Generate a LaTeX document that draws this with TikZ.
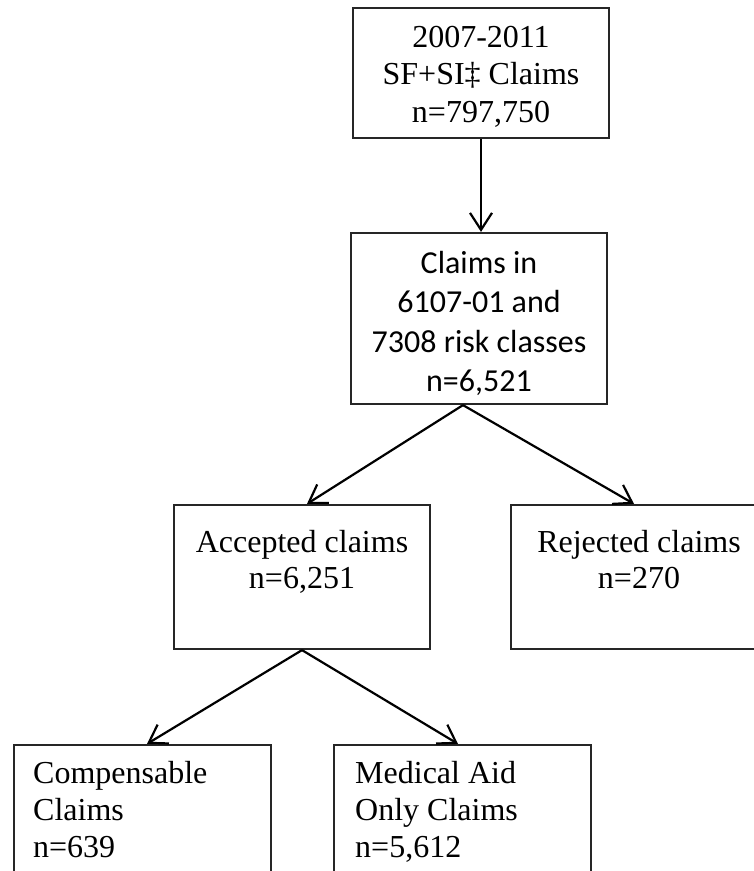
\documentclass[tikz,border=0pt]{standalone}
\usepackage{fontspec}
\setmainfont{Liberation Serif}
\newfontfamily\calfont{Carlito}
\usetikzlibrary{arrows.meta,calc}
\tikzset{
  box/.style={draw=black!85, line width=2.2pt, rectangle, minimum width=256pt, inner sep=0pt},
  txt/.style={inner sep=0pt, anchor=north},
  conn/.style={line width=2.2pt, -{Straight Barb[length=17pt,width=22pt,line width=2.2pt]}}
}
\begin{document}
\begin{tikzpicture}[x=1pt,y=-1pt]
\useasboundingbox (0,0) rectangle (754,871);
\clip (0,0) rectangle (754,871);
\fill[white] (0,0) rectangle (754,871);
% boxes
\node[box, minimum height=130pt] (top) at (481,73) {};
\node[box, minimum height=171pt] (sec) at (479,318.5) {};
\node[box, minimum height=144pt] (acc) at (302,577) {};
\node[box, minimum height=144pt] (rej) at (639,577) {};
\node[box, minimum width=257pt, minimum height=144pt] (comp) at (142.5,817) {};
\node[box, minimum width=257pt, minimum height=144pt] (med) at (462.5,817) {};
% texts
\node[txt, align=center, font=\fontsize{32}{37.5}\selectfont] (toptxt) at (481,{47-26.25})
  {\strut 2007-2011\\SF+SI‡ Claims\\n=797,750};
\node[txt, align=center, font=\calfont\fontsize{32}{39.5}\selectfont] (sectxt) at (479,{273-27.65})
  {\strut Claims in\\6107-01 and\\7308 risk classes\\n=6,521};
\node[txt, align=center, font=\fontsize{32}{36.5}\selectfont] (acctxt) at (302,{552-25.55})
  {\strut Accepted claims\\n=6,251};
\node[txt, align=center, font=\fontsize{32}{36.5}\selectfont] (rejtxt) at (639,{552-25.55})
  {\strut Rejected claims\\n=270};
\node[txt, anchor=north west, align=left, font=\fontsize{32}{37}\selectfont] (comptxt) at (33,{783-25.9})
  {\strut Compensable\\Claims\\n=639};
\node[txt, anchor=north west, align=left, font=\fontsize{32}{37}\selectfont] (medtxt) at (355,{783-25.9})
  {\strut Medical Aid\\Only Claims\\n=5,612};
% connectors
\draw[conn] (top.south) -- (top.south |- sec.north);
\draw[conn] ($(sec.south)+(-16,0)$) -- ($(acc.north)+(5,0)$);
\draw[conn] ($(sec.south)+(-16,0)$) -- ($(rej.north)+(-5,0)$);
\draw[conn] (acc.south) -- ($(comp.north)+(4.5,0)$);
\draw[conn] (acc.south) -- ($(med.north)+(-4.5,0)$);
\end{tikzpicture}
\end{document}
